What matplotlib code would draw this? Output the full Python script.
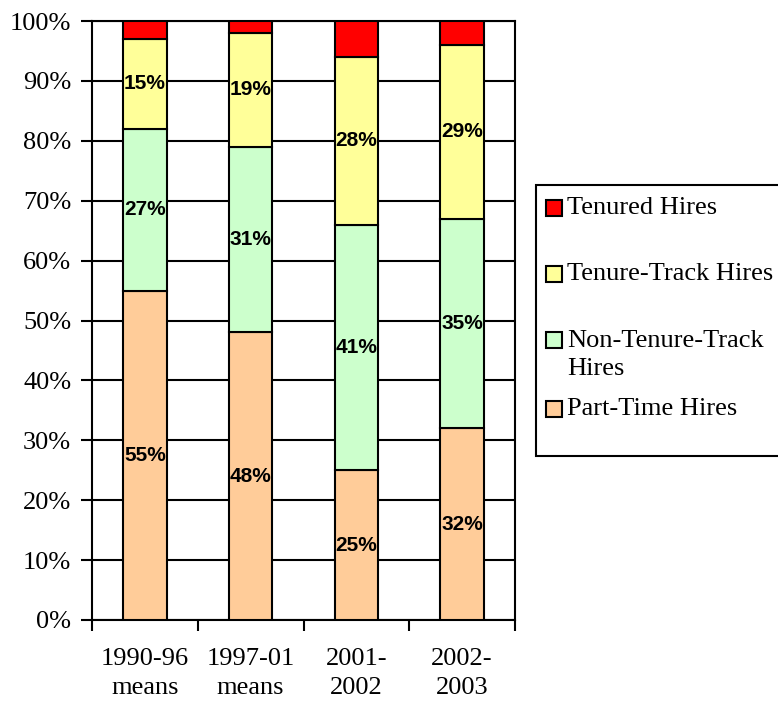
import numpy as np
import matplotlib
matplotlib.use("Agg")
import matplotlib.pyplot as plt
from matplotlib.patches import Rectangle

categories = ["1990-96\nmeans", "1997-01\nmeans", "2001-\n2002", "2002-\n2003"]
series_names = ["Part-Time Hires", "Non-Tenure-Track Hires", "Tenure-Track Hires", "Tenured Hires"]
part_time = [55, 48, 25, 32]
non_tenure_track = [27, 31, 41, 35]
tenure_track = [15, 19, 28, 29]
tenured = [3, 2, 6, 4]
colors = ["#FFCC99", "#CCFFCC", "#FFFF99", "#FF0000"]
show_label = [True, True, True, False]

W, H = 778, 702
fig = plt.figure(figsize=(W / 100, H / 100), dpi=100)
ax = fig.add_axes([92 / W, 82 / H, 423 / W, 599 / H])

serif = "Liberation Serif"
sans = "Liberation Sans"

x = np.arange(len(categories))
data = [part_time, non_tenure_track, tenure_track, tenured]
bottom = np.zeros(len(categories))
for vals, col, lab in zip(data, colors, show_label):
    vals = np.array(vals, dtype=float)
    ax.bar(x, vals, 0.41, bottom=bottom, color=col, edgecolor="black",
           linewidth=1.5, zorder=3)
    if lab:
        for xi, b, v in zip(x, bottom, vals):
            ax.text(xi, b + v / 2, "%d%%" % v, ha="center", va="center",
                    fontsize=15, fontweight="bold", family=sans, zorder=4)
    bottom += vals

ax.set_xlim(-0.5, 3.5)
ax.set_ylim(0, 100)
ax.set_yticks(np.arange(0, 101, 10))
ax.set_yticklabels(["%d%%" % v for v in range(0, 101, 10)], family=serif, fontsize=19)
ax.set_xticks(x)
ax.set_xticklabels(categories, family=serif, fontsize=19, linespacing=1.45)
ax.set_xticks(np.arange(-0.5, 4, 1), minor=True)
ax.tick_params(axis="x", which="major", length=0, pad=20)
ax.tick_params(axis="x", which="minor", length=8, width=1.5, direction="out")
ax.tick_params(axis="y", length=8, width=1.5, direction="out", pad=7)
ax.yaxis.grid(True, color="black", linewidth=1.5)
ax.set_axisbelow(True)
for s in ax.spines.values():
    s.set_linewidth(1.5)
    s.set_color("black")

# legend box, drawn in pixel coordinates of the figure
def px(xp, yp):
    return xp / W, 1 - yp / H

fx, fy = px(536, 456)
fig.patches.append(Rectangle((fx, fy), 400 / W, (456 - 185) / H, transform=fig.transFigure,
                             facecolor="white", edgecolor="black", linewidth=1.5))
legend_order = [3, 2, 1, 0]
legend_labels = ["Tenured Hires", "Tenure-Track Hires", "Non-Tenure-Track\nHires", "Part-Time Hires"]
legend_y = [208, 274, 340, 409]
for idx, lab, yc in zip(legend_order, legend_labels, legend_y):
    rx, ry = px(546, yc + 8)
    fig.patches.append(Rectangle((rx, ry), 16 / W, 16 / H, transform=fig.transFigure,
                                 facecolor=colors[idx], edgecolor="black", linewidth=1.5))
    nlines = lab.count("\n") + 1
    tx, ty = px(567, yc + (nlines - 1) * 15)
    fig.text(tx, ty, lab, ha="left", va="center", family=serif, fontsize=19,
             linespacing=1.4)

fig.savefig("out.png", dpi=100)
